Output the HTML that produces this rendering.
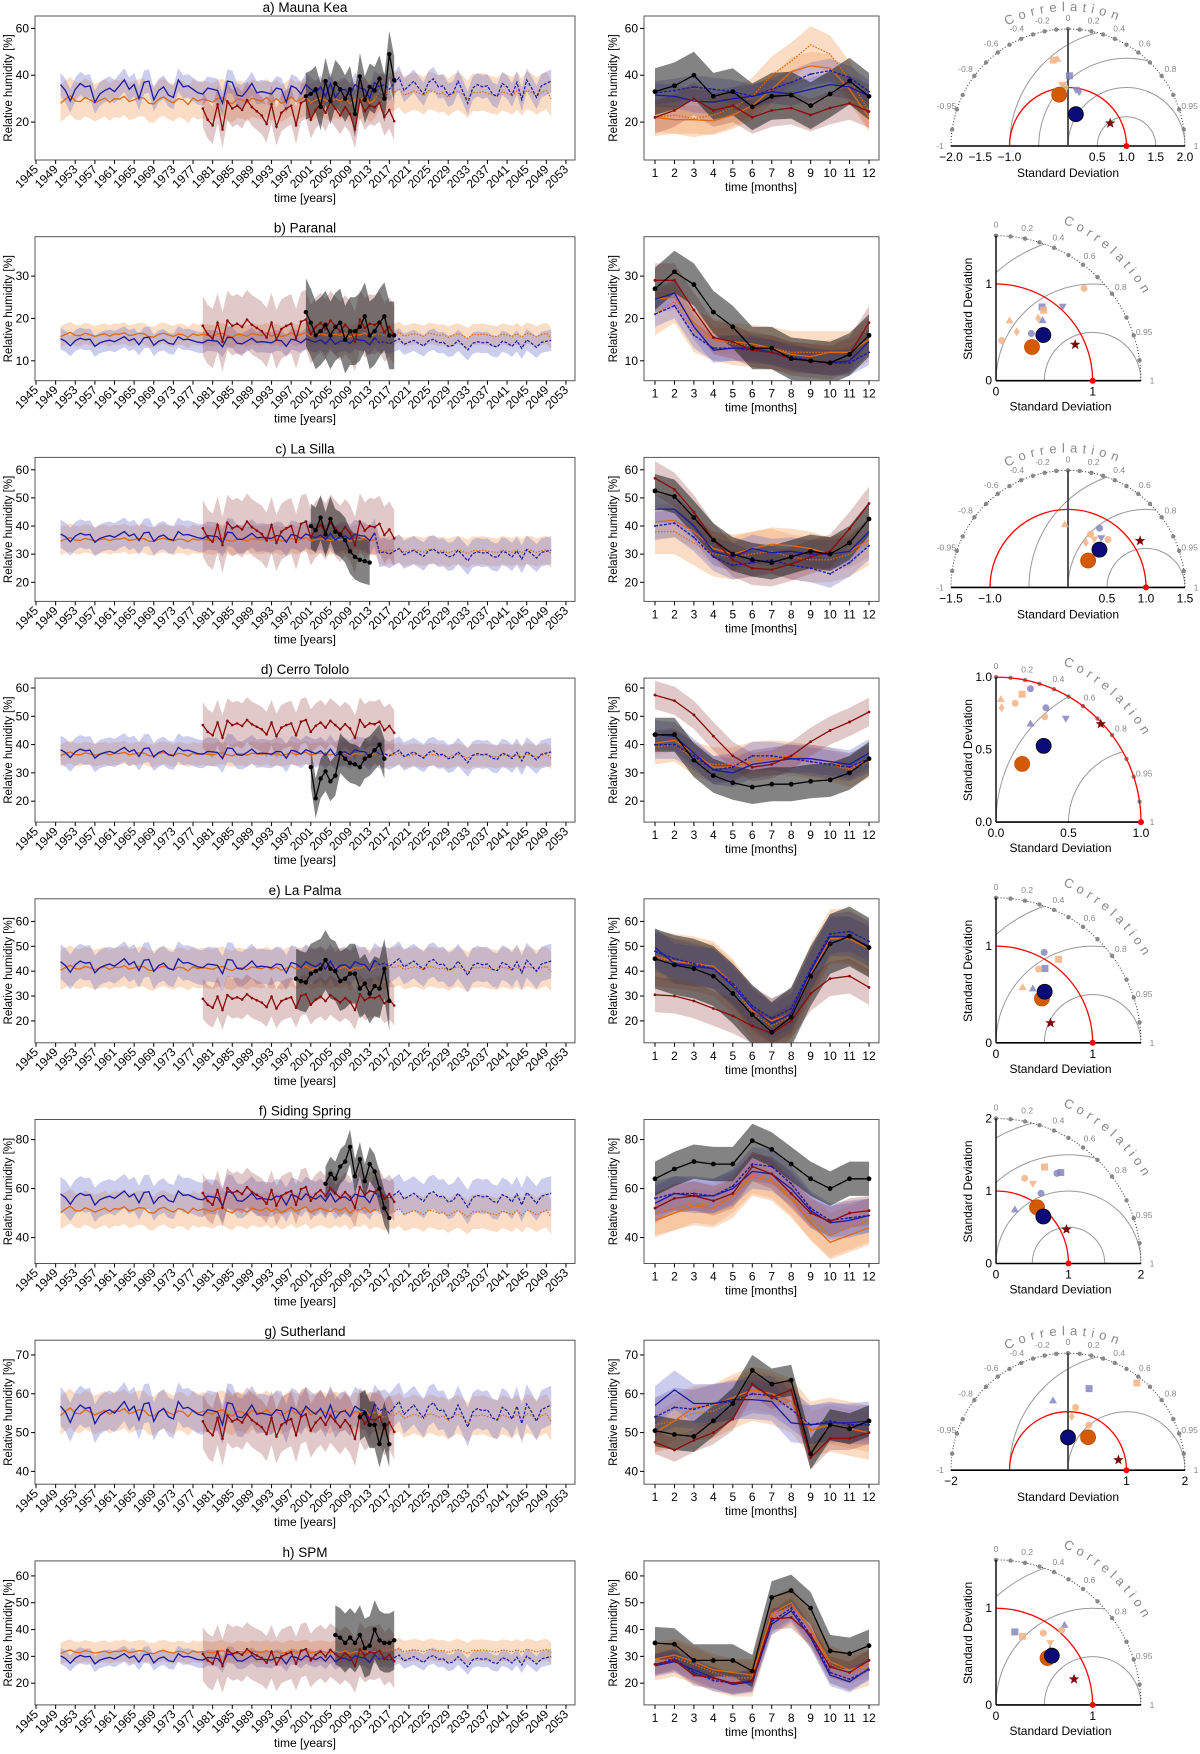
<!DOCTYPE html>
<html><head><meta charset="utf-8"><title>Relative humidity at observatory sites</title>
<style>
html,body{margin:0;padding:0;background:#fff;width:1200px;height:1754px;overflow:hidden;}
svg{display:block;font-family:"Liberation Sans",Arial,sans-serif;}
</style></head>
<body>
<svg id="fig" width="1200" height="1754" viewBox="0 0 1200 1754" xmlns="http://www.w3.org/2000/svg">
<rect x="0" y="0" width="1200" height="1754" fill="#fff"/>
<defs id="defs"></defs>
</svg>
<script>
// ---------------- data ----------------
const siteTitles=['a) Mauna Kea','b) Paranal','c) La Silla','d) Cerro Tololo','e) La Palma','f) Siding Spring','g) Sutherland','h) SPM'];
const yearTicks=[1945,1949,1953,1957,1961,1965,1969,1973,1977,1981,1985,1989,1993,1997,2001,2005,2009,2013,2017,2021,2025,2029,2033,2037,2041,2045,2049,2053];
const monthTicks=[1,2,3,4,5,6,7,8,9,10,11,12];
const yMin=[3.8,5.3,13.2,12.6,11.2,29.4,36.7,11.9];
const yMax=[65.3,39.3,64.4,63.5,69.1,88.2,73.8,65.6];
const yTicks=[[20,40,60],[10,20,30],[20,30,40,50,60],[20,30,40,50,60],[20,30,40,50,60],[40,60,80],[40,50,60,70],[20,30,40,50,60]];
// model anomaly patterns 1950..2050
const anomBlue=[0.6,0.1,-0.8,0.2,0.7,0.4,0.5,-0.9,-0.2,0.1,
0.3,0.0,0.5,1.0,0.2,0.6,-0.6,0.8,0.9,-0.7,
0.1,0.4,-0.3,-0.5,1.0,0.4,0.5,0.2,-0.1,-0.2,
0.3,0.2,0.1,-1.0,0.9,0.8,-0.3,-0.4,0.1,0.7,
-0.1,0.0,-0.1,-0.2,0.3,0.2,-0.9,0.5,0.3,-0.2,
0.6,0.2,-0.1,0.4,-0.4,0.7,-0.5,0.1,0.2,-0.3,
0.6,0.3,0.2,-0.6,0.8,0.2,0.4,0.0,0.5,1.0,
-0.1,0.3,0.7,0.1,-0.4,0.6,0.9,0.2,0.3,-0.5,
-0.3,0.7,-0.2,-1.2,0.1,0.4,0.2,0.3,-0.4,-0.6,
0.5,0.2,-0.5,0.6,-0.9,0.8,0.1,-0.7,0.3,0.5,0.7];
const anomOrange=[-0.4,0.3,0.9,0.0,-0.1,0.6,0.2,-0.3,0.1,0.5,
-0.2,0.4,0.3,0.8,-0.1,0.2,0.6,0.5,-0.4,-0.5,
0.3,0.7,0.1,-0.3,0.4,0.2,-0.6,0.5,0.0,0.3,
0.1,-0.2,0.4,0.6,-0.1,-0.5,0.3,0.2,-0.3,0.5,
0.2,0.0,0.6,-0.2,0.4,-0.4,0.1,0.7,-0.1,0.3,
0.8,-0.3,0.2,0.5,0.1,-0.2,0.4,0.0,0.6,-0.5,
0.3,0.1,0.7,-0.4,0.2,0.5,-0.1,0.4,0.3,0.9,
-0.2,0.1,0.5,0.2,-0.3,0.6,0.4,0.0,0.2,-0.6,
0.1,0.5,-0.1,-0.9,0.3,0.2,0.4,0.1,-0.2,-0.4,
0.4,0.1,-0.3,0.5,-0.5,0.6,0.3,-0.4,0.2,0.6,-0.8];
// reanalysis anomaly pattern 1979..2018
const anomRed=[0.3,-0.5,-0.9,0.6,-1.2,0.8,0.3,0.5,0.2,0.9,
0.4,0.1,-0.2,-0.8,0.6,-1.0,0.0,0.3,0.5,-0.9,
0.7,0.9,-0.5,0.2,0.6,0.0,0.8,0.3,-0.2,0.4,
-0.1,-1.2,0.9,0.1,0.5,0.4,0.7,-0.3,0.2,-0.6];
const blueMean=[33,14.5,36,37,42,56,55,29];
const blueFut=[34,14,30,36,42,56,55,28.5];
const blueAmp=[5,1.2,2,2,3,3,3,2];
const blueBand=[5,2.5,5,5,7,7,5,3];
const orangeMean=[29,16,35,36.5,41,51,55,31.5];
const orangeFut=[32,16,31,36,41,50,54,32];
const orangeAmp=[2.5,0.8,1,1,1.5,2,1.5,1];
const orangeBand=[8,2.5,5,4,8,7,5,4];
const redMean=[24,17.5,38,46,28,57,52,30];
const redAmp=[6,2.5,4,3,3,4,3,3];
const redBand=[8,7,10,8,8,8,7,10];
const blackStart=[2000,2000,2001,2001,1998,2004,2011,2006];
const blackBand=[10,8,8,7,12,7,6,11];
const blackVals=[
[31,32,34,26.5,37.5,29,36.5,34,30,34,23.5,39.5,29.5,35,33.5,38.5,30,49,38],
[21.5,19,16,17,18.5,16,18,19,15,17,17,18,20.5,16,17,19,20.5,16,16],
[40,38.5,43,37,42.5,38,37,35,31,29,28,27.5,27],
[32,21,28,30.5,27,29,37,35,33.5,33,32,35,36,38,40,35],
[37,36,35.5,39,40,41,44.5,41,40,36,37,39,39,33,35,31,34,33,41,28],
[62,66,64,69,71,77,65,72,63,70,67,60,52,48],
[54,55,52,52,47,52,47],
[38,37,35,37,35,38,33,34,40,36,35,35,36]];
// monthly climatologies
const monBlack=[[33,35.5,40,31,33,26.5,31,31.5,27,32,37.5,31],[27,31,28,21.5,18,13,13,10.5,10,9.5,11.5,16],[52.5,50.5,43,35,30,28,27,29,31,30,34,42.5],[43.5,43.5,34.5,29,26.5,25,26,26,27,27.5,30,35],[45,42.5,41,38,31,22.5,15.5,21.5,38,51,54,49.5],[64,68,71,70,70,79.5,76,70,64,60,64,64],[50.5,49.5,49,53,57.5,66,62.5,63.5,44.5,52,51,53],[35,34.5,28.5,28.5,28.5,24.5,52,54.5,48,32,31,34]];
const monRed=[[22,25,30,25,27,22,25,26,23,26,28,24.5],[29,29,22,15.5,14.5,12.5,12,10.5,10,9.5,11.5,19],[57,53,45,35,28,25,24.5,26.5,29,31,39,48],[57.5,55.5,50.5,43,36,32,33,36,41,45,48,51.5],[30.5,30,28,25,22,18,15,20,31,37,38,33.5],[52,56,57,55,58,69,66,58,50,46.5,50,51],[47.5,45.5,48,50,53.5,62.5,59,61,43.5,48.5,48.5,50],[27,28.5,23,22,20,21,44,44.5,38,26,24,28.5]];
const monBlueHist=[[31.5,31,29,28.5,30,31,33,32,34,36,35,31],[24.5,26,18,12.5,13,13,12,10.5,10,9.5,10,14.5],[46,46,40,31,29,32,30.5,31,30,30,31,38],[43.5,43,37,31,30,33,34,35,35,34,33,37],[49.5,43,42,41,34,25,19,23,40,54,54,50],[54,58,57,57,60,67,66,60,51,46,47,49],[57,61,57.5,57.5,58.5,58.5,58,52.5,52,52.5,52.5,53],[26.5,28,25,22,19.5,20.5,42,47,37,23,20.5,25.5]];
const monBlueFut=[[32.5,33.5,35,34,33,31,34,37,40.5,42,39,33],[21,23,16,13,13,12.5,12,11,10,9.5,9.5,12],[40,41,36,29,26,27,28,26,25,23,27,33],[40,40,36,31,32,36,36,35,34,33,32,35],[48,45,43,41,35,26,21,25,41,55,56,52],[56,58,58,57,61,70,69,62,52,47,48,49],[54,56.5,56,57.5,58,60,59.5,56,52,53,52,52],[27,29,24,21,20,21,43,48,38,24,21.5,25]];
const monOrangeHist=[[22,21,21,20.5,23,27,34,41.5,44,43,34,22],[24.5,25,19,15,14.5,14,13,11.5,11,12,12,15],[41.5,42,38,32,30,32,33.5,33,32,30,31,35],[40.5,41.5,37,32,32,34,35,36,35,34,31.5,35],[46,44,43,42,35,24,20,23,39,53,53,49],[47,50,53,52,57,65,63,56,46,38,41,44],[50,53,56.5,57,59,61,60,58,50.5,52,51,50],[29,30.5,28,25,24,23,46,50,40,28,25,27]];
const monOrangeFut=[[22,23,21.5,23,26,31,40,46,53,49,38,25],[21,24,17,15,14,13.5,13,12,12,12,12,15],[38,38,34,30,29,30,31,29,28,28,30,34],[39,40,35,33,33,35,35.5,35,34,33,31,34],[45,44,43,41,34,23,18,22,40,54,54,49],[50,52,54,53,57,66,64,57,48,41,44,47],[52,53,55,55.5,58,60,59,57,51,52,51,50],[28,29.5,27,24,22,22,45,49,40,27,24,26]];
const monBandBlack=[10,5,6,6,12,7,4,6];
const monBandRed=[7,4,6,5,7,6,3,4];
const monBandBlue=[5,3,5,5,8,7,5,4];
const monBandOrange=[6,3,6,4,9,7,5,5];
// Taylor diagrams: [std, corr, marker, colour]
const taylorSemi=[true,false,true,false,false,false,true,false];
const taylorMax=[2,1.5,1.5,1,1.5,2,2,1.5];
const taylorTickVals=[[-2,-1.5,-1,0.5,1,1.5,2],[0,1],[-1.5,-1,0.5,1,1.5],[0,0.5,1],[0,1],[0,1,2],[-2,1,2],[0,1]];
const taylorTickText=[['−2.0','−1.5','−1.0','0.5','1.0','1.5','2.0'],['0','1'],['−1.5','−1.0','0.5','1.0','1.5'],['0.0','0.5','1.0'],['0','1'],['0','1','2'],['−2','1','2'],['0','1']];
const taylorRms=[[0.5,1,1.5,2],[0.5,1,1.5],[0.5,1,1.5],[0.5,1],[0.5,1,1.5],[0.5,1,1.5,2],[1,2],[0.5,1,1.5]];
const taylorPts=[
[[1.49,-0.17,'s','o'],[1.5,-0.12,'^','o'],[1.2,0.02,'s','b'],[0.97,0.14,'v','b'],[0.95,0.2,'d','b'],[1.05,-0.1,'v','o'],[1.0,-0.05,'o','o'],[0.89,-0.17,'O','o'],[0.56,0.24,'O','b'],[0.82,0.88,'*','r']],
[[1.32,0.69,'o','o'],[0.9,0.53,'s','b'],[0.88,0.56,'s','o'],[1.03,0.67,'v','b'],[0.79,0.61,'^','b'],[0.78,0.56,'d','o'],[0.64,0.22,'^','o'],[0.55,0.39,'d','o'],[0.61,0.6,'o','b'],[0.42,0.14,'o','o'],[0.51,0.73,'O','o'],[0.68,0.72,'O','b'],[0.9,0.91,'*','r']],
[[0.81,-0.05,'^','o'],[0.86,0.47,'o','b'],[0.74,0.39,'o','o'],[0.7,0.48,'v','o'],[0.76,0.56,'v','b'],[0.8,0.64,'o','o'],[0.62,0.37,'d','o'],[0.43,0.6,'O','o'],[0.63,0.64,'O','b'],[1.1,0.84,'*','r']],
[[0.95,0.25,'o','b'],[0.9,0.2,'s','o'],[0.83,0.16,'o','o'],[0.85,0.04,'^','o'],[0.79,0.05,'d','o'],[0.86,0.4,'o','b'],[0.8,0.42,'o','o'],[0.72,0.33,'^','b'],[0.86,0.56,'v','b'],[0.44,0.41,'O','o'],[0.62,0.53,'O','b'],[0.99,0.73,'*','r']],
[[1.06,0.47,'o','b'],[1.08,0.6,'s','o'],[0.92,0.55,'s','b'],[0.88,0.5,'o','o'],[0.64,0.43,'^','o'],[0.68,0.56,'^','b'],[0.66,0.72,'O','o'],[0.73,0.69,'O','b'],[0.6,0.94,'*','r']],
[[1.49,0.45,'s','o'],[1.54,0.58,'s','b'],[1.5,0.56,'o','b'],[1.24,0.32,'o','o'],[1.21,0.42,'v','o'],[1.15,0.54,'o','b'],[0.79,0.33,'^','b'],[0.96,0.59,'O','o'],[0.92,0.71,'O','b'],[1.08,0.9,'*','r']],
[[1.9,0.62,'s','o'],[1.44,0.25,'s','b'],[1.22,-0.21,'^','b'],[1.08,0.12,'o','o'],[0.92,0.07,'d','o'],[0.85,0.42,'o','o'],[0.66,0.52,'O','o'],[0.56,0.0,'O','b'],[0.88,0.98,'*','r']],
[[0.78,0.25,'s','b'],[0.76,0.36,'s','o'],[1.09,0.65,'^','b'],[1.03,0.66,'o','o'],[0.89,0.55,'o','o'],[0.85,0.66,'v','o'],[0.8,0.7,'^','b'],[0.72,0.74,'O','o'],[0.77,0.75,'O','b'],[0.85,0.95,'*','r']]];
const corrDots=[0,0.1,0.2,0.3,0.4,0.5,0.6,0.7,0.8,0.9,0.95,0.99];
const corrLabels=[0,0.2,0.4,0.6,0.8,0.95,1];

// ---------------- drawing ----------------
const NS='http://www.w3.org/2000/svg';
const svg=document.getElementById('fig');
const defs=document.getElementById('defs');
function mk(tag,attrs,parent){const e=document.createElementNS(NS,tag);for(const k in attrs)e.setAttribute(k,attrs[k]);parent.appendChild(e);return e;}
function txt(s,attrs,parent){const e=mk('text',attrs,parent);e.textContent=s;return e;}
const PITCH=220.7;
const C={blue:'#1a1aa0',orange:'#dd6a10',red:'#8b0a0a',black:'#000',
 blueB:'rgba(110,110,200,0.35)',orangeB:'rgba(245,165,105,0.38)',redB:'rgba(150,60,60,0.28)',blackB:'rgba(30,30,30,0.55)'};
function bandPath(xs,ys,w,X,Y){let d='';for(let i=0;i<xs.length;i++)d+=(i?'L':'M')+X(xs[i]).toFixed(1)+','+Y(ys[i]+w).toFixed(1);for(let i=xs.length-1;i>=0;i--)d+='L'+X(xs[i]).toFixed(1)+','+Y(ys[i]-w).toFixed(1);return d+'Z';}
function linePath(xs,ys,X,Y){let d='';for(let i=0;i<xs.length;i++)d+=(i?'L':'M')+X(xs[i]).toFixed(1)+','+Y(ys[i]).toFixed(1);return d;}

function drawYAxis(g,k,T,xr,X0,Y){
  yTicks[k].forEach(v=>{
    const t=mk('line',{x1:X0-4,x2:X0,y1:Y(v),y2:Y(v),stroke:'#000','stroke-width':1},g);
    
    
    const l=txt(String(v),{x:X0-6,y:Y(v)+4,'font-size':12,'text-anchor':'end',fill:'#000'},g);
    
    
  });
  const yl=txt('Relative humidity [%]',{x:xr,y:T+72,'font-size':11.5,'text-anchor':'middle',transform:`rotate(-90 ${xr} ${T+72})`},g);
  
  
}

function drawTS(k){
  const T=16+k*PITCH, L=35, R=575, H=144;
  const X=y=>36+(y-1945)*4.907;
  const Y=v=>T+(yMax[k]-v)/(yMax[k]-yMin[k])*H;
  const g=mk('g',{},svg);
  
  
  const cp=mk('clipPath',{id:'cts'+k},defs);
  mk('rect',{x:L,y:T,width:R-L,height:H},cp);
  const title=txt(siteTitles[k],{x:305,y:T-4,'font-size':13.5,'text-anchor':'middle'},g);
  
  
  const pg=mk('g',{'clip-path':`url(#cts${k})`},g);
  
  
  const years=[],blue=[],orange=[];
  for(let i=0;i<anomBlue.length;i++){const yr=1950+i;years.push(yr);
    blue.push((yr<=2014?blueMean[k]:blueFut[k])+blueAmp[k]*anomBlue[i]);
    orange.push((yr<=2014?orangeMean[k]:orangeFut[k])+orangeAmp[k]*anomOrange[i]);}
  const ryears=anomRed.map((_,i)=>1979+i), red=anomRed.map(a=>redMean[k]+redAmp[k]*a);
  const kyears=blackVals[k].map((_,i)=>blackStart[k]+i), black=blackVals[k];
  const ob=mk('path',{d:bandPath(years,orange,orangeBand[k],X,Y),fill:C.orangeB},pg);
  
  
  const bb=mk('path',{d:bandPath(years,blue,blueBand[k],X,Y),fill:C.blueB},pg);
  
  
  const rb=mk('path',{d:bandPath(ryears,red,redBand[k],X,Y),fill:C.redB},pg);
  
  
  const kb=mk('path',{d:bandPath(kyears,black,blackBand[k],X,Y),fill:C.blackB},pg);
  
  
  const hi=years.filter(y=>y<=2014).length;
  const ol=mk('path',{d:linePath(years.slice(0,hi),orange.slice(0,hi),X,Y),fill:'none',stroke:C.orange,'stroke-width':1.3},pg);
  
  
  const of=mk('path',{d:linePath(years.slice(hi-1),orange.slice(hi-1),X,Y),fill:'none',stroke:C.orange,'stroke-width':1.2,'stroke-dasharray':'1.5,1.5'},pg);
  
  
  const bl=mk('path',{d:linePath(years.slice(0,hi),blue.slice(0,hi),X,Y),fill:'none',stroke:C.blue,'stroke-width':1.3},pg);
  
  
  const bf=mk('path',{d:linePath(years.slice(hi-1),blue.slice(hi-1),X,Y),fill:'none',stroke:C.blue,'stroke-width':1.2,'stroke-dasharray':'3,1.5'},pg);
  
  
  const rl=mk('path',{d:linePath(ryears,red,X,Y),fill:'none',stroke:C.red,'stroke-width':1.3},pg);
  
  
  ryears.forEach((yr,i)=>{const p=mk('circle',{cx:X(yr),cy:Y(red[i]),r:1.3,fill:C.red},pg);
    
    });
  const kl=mk('path',{d:linePath(kyears,black,X,Y),fill:'none',stroke:C.black,'stroke-width':1.3},pg);
  
  
  kyears.forEach((yr,i)=>{const p=mk('circle',{cx:X(yr),cy:Y(black[i]),r:2.2,fill:'#000'},pg);
    
    });
  const fr=mk('rect',{x:L,y:T,width:R-L,height:H,fill:'none',stroke:'#555','stroke-width':1},g);
  
  
  yearTicks.forEach(yr=>{
    const x=X(yr);
    const t=mk('line',{x1:x,x2:x,y1:T+H,y2:T+H+4,stroke:'#000'},g);
    
    
    const l=txt(String(yr),{x:x+3,y:T+H+10,'font-size':12,'text-anchor':'end',transform:`rotate(-45 ${x+3} ${T+H+10})`},g);
    
    
  });
  const xl=txt('time [years]',{x:305,y:T+186,'font-size':12,'text-anchor':'middle'},g);
  
  
  drawYAxis(g,k,T,12,L,Y);
}

function drawMon(k){
  const T=16+k*PITCH, L=644, R=879, H=144;
  const X=m=>655+(m-1)*(869-655)/11;
  const Y=v=>T+(yMax[k]-v)/(yMax[k]-yMin[k])*H;
  const g=mk('g',{},svg);
  
  
  const cp=mk('clipPath',{id:'cm'+k},defs);
  mk('rect',{x:L,y:T,width:R-L,height:H},cp);
  const pg=mk('g',{'clip-path':`url(#cm${k})`},g);
  
  
  const series=[
    [monOrangeFut[k],monBandOrange[k]+2,C.orangeB,C.orange,'1.5,1.5',0,'orange-future'],
    [monOrangeHist[k],monBandOrange[k],C.orangeB,C.orange,'',0,'orange-hist'],
    [monBlueFut[k],monBandBlue[k],C.blueB,C.blue,'3,1.5',1,'blue-future'],
    [monBlueHist[k],monBandBlue[k],C.blueB,C.blue,'',0,'blue-hist'],
    [monRed[k],monBandRed[k],C.redB,C.red,'',1.4,'era5'],
    [monBlack[k],monBandBlack[k],C.blackB,C.black,'',2.4,'in-situ']];
  series.forEach(s=>{const b=mk('path',{d:bandPath(monthTicks,s[0],s[1],X,Y),fill:s[2]},pg);
    
    });
  series.forEach(s=>{
    const l=mk('path',{d:linePath(monthTicks,s[0],X,Y),fill:'none',stroke:s[3],'stroke-width':1.3},pg);
    if(s[4])l.setAttribute('stroke-dasharray',s[4]);
    
    
    if(s[5])monthTicks.forEach((m,i)=>{const p=mk('circle',{cx:X(m),cy:Y(s[0][i]),r:s[5],fill:s[3]},pg);
      
      });
  });
  const fr=mk('rect',{x:L,y:T,width:R-L,height:H,fill:'none',stroke:'#555','stroke-width':1},g);
  
  
  monthTicks.forEach(m=>{
    const t=mk('line',{x1:X(m),x2:X(m),y1:T+H,y2:T+H+4,stroke:'#000'},g);
    
    
    const l=txt(String(m),{x:X(m),y:T+H+17,'font-size':12,'text-anchor':'middle'},g);
    
    
  });
  const xl=txt('time [months]',{x:761,y:T+H+31,'font-size':12,'text-anchor':'middle'},g);
  
  
  drawYAxis(g,k,T,617,L,Y);
}

function marker(g,x,y,m,col){
  const fill=col==='o'?'#f2b283':col==='b'?'#8585c0':'#7a0a0a';
  let e;
  if(m==='O'){e=mk('circle',{cx:x,cy:y,r:7.5,fill:col==='o'?'#d35a00':'#0a0a78',stroke:col==='o'?'#c05000':'#000','stroke-width':0.8},g);}
  else if(m==='o'){e=mk('circle',{cx:x,cy:y,r:3.5,fill:fill,opacity:0.85},g);}
  else if(m==='s'){e=mk('rect',{x:x-3.5,y:y-3.5,width:7,height:7,fill:fill,opacity:0.85},g);}
  else if(m==='^'){e=mk('path',{d:`M${x},${y-4}L${x+4},${y+3}L${x-4},${y+3}Z`,fill:fill,opacity:0.85},g);}
  else if(m==='v'){e=mk('path',{d:`M${x},${y+4}L${x+4},${y-3}L${x-4},${y-3}Z`,fill:fill,opacity:0.85},g);}
  else if(m==='d'){e=mk('path',{d:`M${x},${y-4.5}L${x+3},${y}L${x},${y+4.5}L${x-3},${y}Z`,fill:fill,opacity:0.85},g);}
  else {let d='';for(let i=0;i<10;i++){const a=-Math.PI/2+i*Math.PI/5,r=i%2?2.3:5.5;d+=(i?'L':'M')+(x+r*Math.cos(a)).toFixed(1)+','+(y+r*Math.sin(a)).toFixed(1);}
    e=mk('path',{d:d+'Z',fill:fill},g);}
  return e;
}

function drawTaylor(k){
  const T=16+k*PITCH, semi=taylorSemi[k];
  const ox=semi?1068:996, oy=semi?T+130:T+144, Rr=semi?117:145;
  const u=Rr/taylorMax[k];
  const P=(sd,c)=>{const a=Math.acos(c);return [ox+sd*u*Math.cos(a),oy-sd*u*Math.sin(a)];};
  const g=mk('g',{},svg);
  
  
  const cp=mk('clipPath',{id:'ct'+k},defs);
  mk('path',{d:semi?`M${ox-Rr},${oy}A${Rr},${Rr} 0 0 1 ${ox+Rr},${oy}Z`:`M${ox},${oy}L${ox+Rr},${oy}A${Rr},${Rr} 0 0 0 ${ox},${oy-Rr}Z`},cp);
  const rg=mk('g',{'clip-path':`url(#ct${k})`},g);
  
  
  taylorRms[k].forEach(r=>{const c=mk('circle',{cx:ox+u,cy:oy,r:r*u,fill:'none',stroke:'#999','stroke-width':1},rg);
    
    });
  const oa=mk('path',{d:semi?`M${ox-Rr},${oy}A${Rr},${Rr} 0 0 1 ${ox+Rr},${oy}`:`M${ox+Rr},${oy}A${Rr},${Rr} 0 0 0 ${ox},${oy-Rr}`,fill:'none',stroke:'#333','stroke-width':1,'stroke-dasharray':'1,2'},g);
  
  
  const dots=semi?corrDots.concat(corrDots.slice(1).map(c=>-c)):corrDots;
  dots.forEach(c=>{const [x,y]=P(taylorMax[k],c);const d=mk('circle',{cx:x,cy:y,r:2.2,fill:'#888'},g);
    
    });
  const labs=semi?corrLabels.concat(corrLabels.slice(1).map(c=>-c)):corrLabels;
  labs.forEach(c=>{const a=Math.acos(c);const x=ox+(Rr+11)*Math.cos(a),y=oy-(Rr+11)*Math.sin(a)+3;
    const l=txt(String(c),{x:x,y:y,'font-size':8.5,fill:'#888','text-anchor':'middle'},g);
    
    });
  const rho=Rr+(semi?18:26);
  const a1=semi?117*Math.PI/180:67*Math.PI/180, a2=semi?62*Math.PI/180:22*Math.PI/180;
  mk('path',{id:'cp'+k,d:`M${ox+rho*Math.cos(a1)},${oy-rho*Math.sin(a1)}A${rho},${rho} 0 0 1 ${ox+rho*Math.cos(a2)},${oy-rho*Math.sin(a2)}`},defs);
  const ct=mk('text',{'font-size':13,fill:'#888','letter-spacing':semi?5:4.5},g);
  
  
  const tp=mk('textPath',{href:'#cp'+k},ct);tp.textContent='Correlation';
  const ra=mk('path',{d:semi?`M${ox-u},${oy}A${u},${u} 0 0 1 ${ox+u},${oy}`:`M${ox+u},${oy}A${u},${u} 0 0 0 ${ox},${oy-u}`,fill:'none',stroke:'#f00','stroke-width':1.3},g);
  
  
  const ax=mk('line',{x1:semi?ox-Rr:ox,x2:ox+Rr,y1:oy,y2:oy,stroke:'#000','stroke-width':1.6},g);
  
  
  const vx=mk('line',{x1:ox,x2:ox,y1:oy,y2:oy-Rr,stroke:semi?'#444':'#000','stroke-width':semi?1.8:1.4},g);
  
  
  taylorTickVals[k].forEach((v,i)=>{
    const l=txt(taylorTickText[k][i],{x:ox+v*u,y:oy+15,'font-size':12,'text-anchor':'middle'},g);
    
    
    if(!semi){const yl=txt(taylorTickText[k][i],{x:ox-4,y:oy-v*u+4,'font-size':12,'text-anchor':'end'},g);
      
      }
  });
  const xl=txt('Standard Deviation',{x:semi?ox:ox+Rr/2-8,y:oy+(semi?31:30),'font-size':12,'text-anchor':'middle'},g);
  
  
  if(!semi){const yl=txt('Standard Deviation',{x:972,y:oy-72,'font-size':12,'text-anchor':'middle',transform:`rotate(-90 972 ${oy-72})`},g);
    
    }
  const rp=mk('circle',{cx:ox+u,cy:oy,r:3,fill:'#f00'},g);
  
  
  const pts=taylorPts[k];
  pts.filter(p=>p[2]!=='O'&&p[2]!=='*').concat(pts.filter(p=>p[2]==='O'||p[2]==='*')).forEach(p=>{
    const [x,y]=P(p[0],p[1]);
    const m=marker(g,x,y,p[2],p[3]);
    
    
  });
}

for(let k=0;k<8;k++){drawTS(k);drawMon(k);drawTaylor(k);}
</script>
</body></html>
